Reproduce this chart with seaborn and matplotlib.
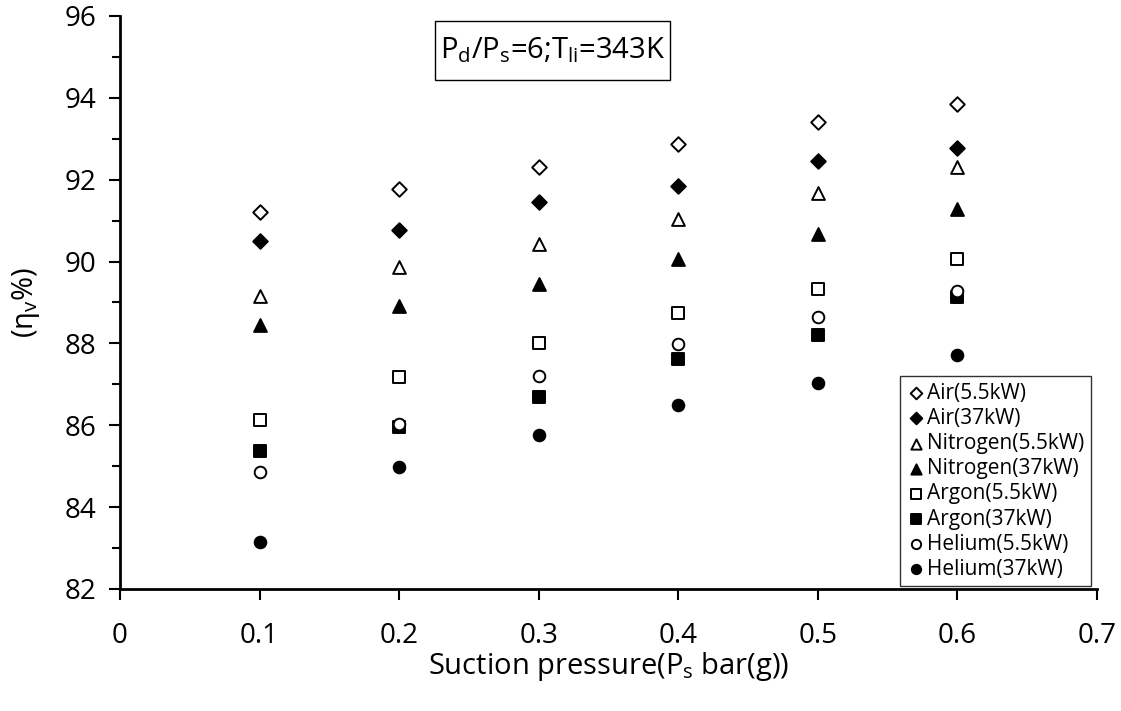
import matplotlib
matplotlib.use("Agg")
import matplotlib.pyplot as plt
from matplotlib.ticker import MultipleLocator
import seaborn as sns
import pandas as pd

pressure = [0.1, 0.2, 0.3, 0.4, 0.5, 0.6]
air_55 = [91.21, 91.76, 92.32, 92.88, 93.40, 93.85]
air_37 = [90.51, 90.78, 91.45, 91.84, 92.46, 92.78]
nitrogen_55 = [89.15, 89.87, 90.43, 91.04, 91.68, 92.32]
nitrogen_37 = [88.46, 88.91, 89.44, 90.05, 90.68, 91.29]
argon_55 = [86.13, 87.18, 88.00, 88.75, 89.33, 90.05]
argon_37 = [85.37, 85.95, 86.70, 87.63, 88.20, 89.14]
helium_55 = [84.85, 86.03, 87.20, 87.98, 88.64, 89.28]
helium_37 = [83.14, 84.99, 85.76, 86.50, 87.04, 87.71]

series_names = ["Air(5.5kW)", "Air(37kW)", "Nitrogen(5.5kW)", "Nitrogen(37kW)",
                "Argon(5.5kW)", "Argon(37kW)", "Helium(5.5kW)", "Helium(37kW)"]
series_values = [air_55, air_37, nitrogen_55, nitrogen_37,
                 argon_55, argon_37, helium_55, helium_37]
markers = ["D", "D", "^", "^", "s", "s", "o", "o"]
filled = [False, True, False, True, False, True, False, True]
sizes = [55, 55, 85, 85, 70, 70, 70, 70]

x_ticks = [0, 0.1, 0.2, 0.3, 0.4, 0.5, 0.6, 0.7]
x_tick_labels = ["0", "0.1", "0.2", "0.3", "0.4", "0.5", "0.6", "0.7"]
y_ticks = [82, 84, 86, 88, 90, 92, 94, 96]

sns.set_style("ticks")
plt.rcParams["font.family"] = ["Open Sans", "DejaVu Sans"]
plt.rcParams["mathtext.fontset"] = "custom"
plt.rcParams["mathtext.rm"] = "Open Sans"
plt.rcParams["mathtext.it"] = "Open Sans"
plt.rcParams["mathtext.default"] = "regular"
for k in ["text.color", "axes.labelcolor", "xtick.color", "ytick.color", "axes.edgecolor"]:
    plt.rcParams[k] = "black"

fig = plt.figure(figsize=(11.21, 7.11), dpi=100)
ax = fig.add_axes([0.107, 0.1716, 0.8716, 0.806])

for name, vals, m, f, s in zip(series_names, series_values, markers, filled, sizes):
    df = pd.DataFrame({"x": pressure, "y": vals})
    sns.scatterplot(data=df, x="x", y="y", ax=ax, marker=m, s=s,
                    color="black" if f else "white", edgecolor="black",
                    linewidth=1.4, label=name, zorder=3)

ax.set_xlim(0, 0.7)
ax.set_ylim(82, 96)
ax.set_xticks(x_ticks)
ax.set_xticklabels(x_tick_labels)
ax.set_yticks(y_ticks)
ax.yaxis.set_minor_locator(MultipleLocator(1))
ax.tick_params(axis="x", labelsize=20, pad=16)
ax.tick_params(axis="y", labelsize=20, pad=9)
ax.tick_params(axis="both", which="major", direction="out", length=8, width=1.5, color="black")
ax.tick_params(axis="y", which="minor", direction="out", length=6, width=1.5, color="black")

for sp in ["left", "bottom"]:
    ax.spines[sp].set_linewidth(2)
    ax.spines[sp].set_color("black")
sns.despine(ax=ax, top=True, right=True)

ax.set_xlabel(r"Suction pressure(P$_{s}$ bar(g))", fontsize=21, labelpad=0)
ax.set_ylabel(r"($\eta_{v}$%)", fontsize=21, labelpad=16)

ax.text(0.31, 95.15, r"P$_{d}$/P$_{s}$=6;T$_{li}$=343K", fontsize=21,
        ha="center", va="center",
        bbox=dict(boxstyle="square,pad=0.17", mutation_aspect=2.9,
                  facecolor="white", edgecolor="black", linewidth=1))

leg = ax.legend(loc="lower right", bbox_to_anchor=(0.9935, 0.005), fontsize=15,
                frameon=True, fancybox=False, edgecolor="black", handletextpad=0.1,
                borderpad=0.3, labelspacing=0.2, handlelength=0.9, borderaxespad=0.0,
                markerscale=0.8)
leg.get_frame().set_linewidth(1)

fig.savefig("out.png", dpi=100)
